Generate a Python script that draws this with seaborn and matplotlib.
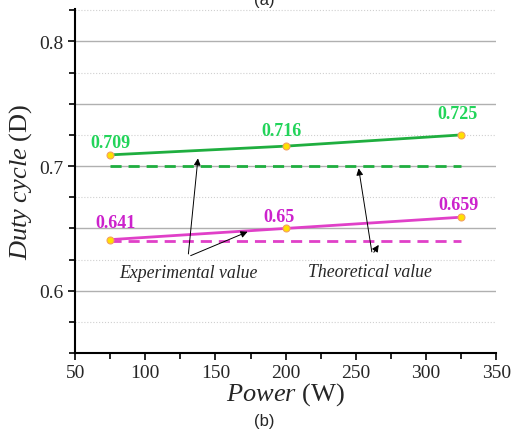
import numpy as np
import pandas as pd
import matplotlib.pyplot as plt
from matplotlib.ticker import MultipleLocator
import seaborn as sns

# data
power = [75, 200, 325]
duty_a = [0.709, 0.716, 0.725]   # green, experimental
duty_b = [0.641, 0.650, 0.659]   # magenta, experimental
theory_a = [0.70, 0.70, 0.70]
theory_b = [0.64, 0.64, 0.64]

sns.set_theme(style='white')
plt.rcParams['font.family'] = ['Liberation Serif', 'DejaVu Serif']
plt.rcParams['mathtext.fontset'] = 'custom'
plt.rcParams['mathtext.rm'] = 'Liberation Serif'
plt.rcParams['mathtext.it'] = 'Liberation Serif:italic'

green_line = '#1fae3f'
green_txt = '#22d45a'
mag_line = '#e040c8'
mag_txt = '#cc22cc'

df = pd.DataFrame({'power': power, 'exp_a': duty_a, 'exp_b': duty_b,
                   'th_a': theory_a, 'th_b': theory_b})

fig = plt.figure(figsize=(5.29, 4.35), dpi=100)
ax = fig.add_axes([0.142, 0.186, 0.796, 0.791])

# grid
for y in np.arange(0.55, 0.826, 0.05):
    ax.axhline(y, color='#b0b0b0', lw=1.0, zorder=0)
for y in np.arange(0.575, 0.826, 0.05):
    ax.axhline(y, color='#d0d0d0', lw=0.8, ls=':', zorder=0)

sns.lineplot(data=df, x='power', y='th_a', ax=ax, color=green_line, lw=2, ls=(0, (4, 2.5)))
sns.lineplot(data=df, x='power', y='th_b', ax=ax, color=mag_line, lw=2, ls=(0, (4, 2.5)))
sns.lineplot(data=df, x='power', y='exp_a', ax=ax, color=green_line, lw=2,
             marker='o', ms=5, mfc='#ffe000', mec='#f4a060', mew=0.8)
sns.lineplot(data=df, x='power', y='exp_b', ax=ax, color=mag_line, lw=2,
             marker='o', ms=5, mfc='#ffe000', mec='#f4a060', mew=0.8)

# label offsets in pixels (x, y up)
offs_a = [(0, 12), (-4, 16), (-4, 21)]
offs_b = [(5, 17), (-7, 12), (-3, 13)]
for x, y, (dx, dy) in zip(power, duty_a, offs_a):
    ax.annotate(f'{y:g}', (x, y), xytext=(dx * 0.72, dy * 0.72), textcoords='offset points',
                ha='center', va='center', color=green_txt, fontsize=13, fontweight='bold')
for x, y, (dx, dy) in zip(power, duty_b, offs_b):
    ax.annotate(f'{y:g}', (x, y), xytext=(dx * 0.72, dy * 0.72), textcoords='offset points',
                ha='center', va='center', color=mag_txt, fontsize=13, fontweight='bold')

arrow = dict(arrowstyle='-|>', color='black', lw=0.7, mutation_scale=10)
ax.text(130.5, 0.6145, 'Experimental value', style='italic', fontsize=12.8, ha='center', va='center')
ax.annotate('', xy=(137.7, 0.7084), xytext=(130.5, 0.6273), arrowprops=arrow)
ax.annotate('', xy=(174.7, 0.6482), xytext=(130.5, 0.6273), arrowprops=arrow)
ax.text(260.3, 0.6153, 'Theoretical value', style='italic', fontsize=12.8, ha='center', va='center')
ax.annotate('', xy=(251.7, 0.7004), xytext=(261.7, 0.629), arrowprops=arrow)
ax.annotate('', xy=(267.4, 0.6386), xytext=(261.7, 0.629), arrowprops=arrow)

ax.set_xlim(50, 350)
ax.set_ylim(0.55, 0.826)
ax.xaxis.set_major_locator(MultipleLocator(50))
ax.xaxis.set_minor_locator(MultipleLocator(25))
ax.yaxis.set_major_locator(MultipleLocator(0.1))
ax.yaxis.set_minor_locator(MultipleLocator(0.025))
ax.tick_params(which='both', direction='out', color='black', width=1.2, labelsize=14,
               bottom=True, left=True)
ax.tick_params(which='major', length=5)
ax.tick_params(which='minor', length=4)
ax.tick_params(axis='x', pad=3)
ax.set_yticklabels([f'{t:g}' for t in ax.get_yticks()])

for s in ['top', 'right']:
    ax.spines[s].set_visible(False)
for s in ['left', 'bottom']:
    ax.spines[s].set_color('black')
    ax.spines[s].set_linewidth(1.5)

ax.set_xlabel(r'$\mathit{Power}$ (W)', fontsize=19, labelpad=-1)
ax.set_ylabel(r'$\mathit{Duty\ cycle}$ (D)', fontsize=19, labelpad=4)

fig.text(0.5, 0.032, '(b)', ha='center', va='center', fontsize=12,
         family=['Liberation Sans', 'DejaVu Sans'])
fig.text(0.5, 1.0, '(a)', ha='center', va='center', fontsize=12,
         family=['Liberation Sans', 'DejaVu Sans'])

fig.savefig('out.png', dpi=100)
